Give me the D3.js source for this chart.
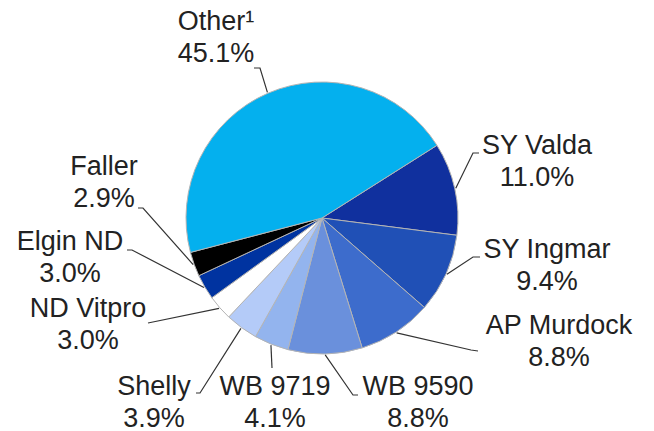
<html>
<head>
<script src="https://d3js.org/d3.v7.min.js"></script>
<style>
  body { margin: 0; background: #fff; font-family: 'Liberation Sans', Arial, sans-serif; }
  .lbl { font-size: 27px; fill: #222; }
  .leader { fill: none; stroke: #333; stroke-width: 1.2px; }
</style>
</head>
<body>
<div id="chart"></div>
<script>
// data, clockwise from the SY Valda edge
const varieties = ['SY Valda', 'SY Ingmar', 'AP Murdock', 'WB 9590', 'WB 9719', 'Shelly', 'ND Vitpro', 'Elgin ND', 'Faller', 'Other¹']
const shares = [11.0, 9.4, 8.8, 8.8, 4.1, 3.9, 3.0, 3.0, 2.9, 45.1]
const colors = ['#10309e', '#2050b6', '#3d6ccc', '#6a90dc', '#93b4ee', '#b4cbf8', '#ffffff', '#0033a0', '#000000', '#04b0ee']

// label layout: text centre x, first baseline y, leader elbow and end
const labelPos = [
  {x: 537, y: 154, elbow: [473, 153], end: [479, 153]},
  {x: 547, y: 258, elbow: [473, 257], end: [480, 257]},
  {x: 559, y: 334, elbow: [471, 350], end: [478, 351]},
  {x: 418, y: 395, elbow: [353, 395], end: [358, 395]},
  {x: 275, y: 395, elbow: [272, 368], end: [272, 368]},
  {x: 154, y: 395, elbow: [200, 393], end: [196, 393]},
  {x: 88, y: 317, elbow: [148, 323], end: [148, 323]},
  {x: 70, y: 250, elbow: [132, 250], end: [127, 250]},
  {x: 104, y: 175, elbow: [143, 208], end: [138, 208]},
  {x: 216, y: 30, elbow: [260, 68], end: [254, 68]}
]

const W = 654, H = 431
const cx = 322, cy = 218, r = 136
const startDeg = 57.7

const svg = d3.select('#chart').append('svg')
  .attr('width', W).attr('height', H)

const rows = varieties.map((v, i) => ({name: v, value: shares[i], color: colors[i], pos: labelPos[i]}))

const pie = d3.pie()
  .sort(null)
  .value(d => d.value)
  .startAngle(startDeg * Math.PI / 180)
  .endAngle(startDeg * Math.PI / 180 + 2 * Math.PI)

const arc = d3.arc().innerRadius(0).outerRadius(r)
const arcs = pie(rows)

const g = svg.append('g').attr('transform', `translate(${cx},${cy})`)

g.selectAll('path.slice')
  .data(arcs)
  .enter().append('path')
  .attr('class', 'slice')
  .attr('d', arc)
  .attr('fill', d => d.data.color)
  .attr('stroke', '#b4b4b4')
  .attr('stroke-width', 1)

// leader lines from the slice edge to the label
const edgePt = d => {
  const a = (d.startAngle + d.endAngle) / 2
  return [cx + (r + 1) * Math.sin(a), cy - (r + 1) * Math.cos(a)]
}

svg.selectAll('path.leader')
  .data(arcs)
  .enter().append('path')
  .attr('class', 'leader')
  .attr('d', d => d3.line()([edgePt(d), d.data.pos.elbow, d.data.pos.end]))

const labels = svg.selectAll('text.lbl')
  .data(arcs)
  .enter().append('text')
  .attr('class', 'lbl')
  .attr('text-anchor', 'middle')

labels.append('tspan')
  .attr('x', d => d.data.pos.x)
  .attr('y', d => d.data.pos.y)
  .text(d => d.data.name)

labels.append('tspan')
  .attr('x', d => d.data.pos.x)
  .attr('y', d => d.data.pos.y + 32)
  .text(d => d.data.value.toFixed(1) + '%')
</script>
</body>
</html>
